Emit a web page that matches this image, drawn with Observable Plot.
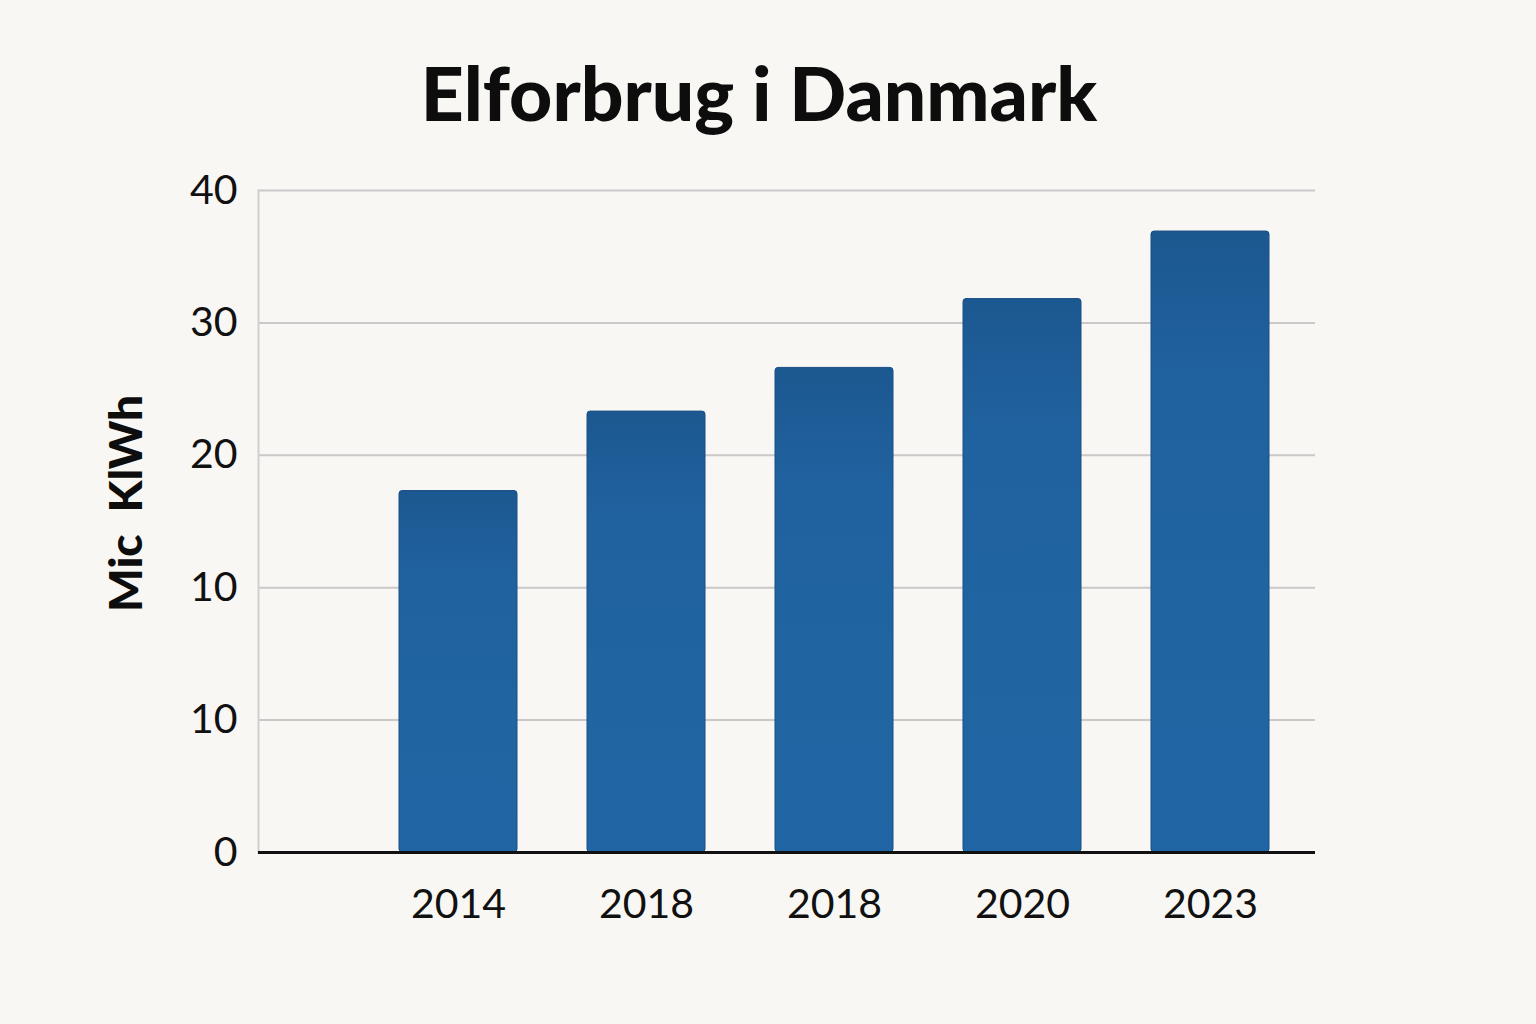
<!DOCTYPE html>
<html>
<head>
<meta charset="utf-8">
<script src="https://cdn.jsdelivr.net/npm/d3@7"></script>
<script src="https://cdn.jsdelivr.net/npm/@observablehq/plot@0.6"></script>
<style>
  html, body { margin: 0; padding: 0; background: #f8f7f4; }
  #wrap { position: relative; width: 1536px; height: 1024px; overflow: hidden; }
  #title { position: absolute; left: 0; top: 55px; width: 1518px; text-align: center;
    font-family: Lato, "Noto Sans", sans-serif; font-weight: 900; font-size: 75px; color: #0d0d0d; line-height: 1; }
  #chart { position: absolute; left: 0; top: 0; }
</style>
</head>
<body>
<div id="wrap">
  <div id="chart"></div>
  <div id="title"></div>
</div>
<script>
const titleText = "Elforbrug i Danmark";
const yLabel = "Mic  KlWh";
const years = ["2014", "2018", "2018", "2020", "2023"];
const values = [27.3, 33.3, 36.6, 41.8, 46.9];
const yTicks = [0, 10, 20, 30, 40, 50];
const yTickLabels = ["0", "10", "10", "20", "30", "40"];

document.getElementById("title").textContent = titleText;
const data = years.map((y, i) => ({i, year: y, v: values[i]}));

const plot = Plot.plot({
  width: 1536,
  height: 1024,
  marginTop: 190,
  marginBottom: 172,
  marginLeft: 258,
  marginRight: 221,
  style: {background: "transparent", fontFamily: "Lato, 'Noto Sans', sans-serif", color: "#111"},
  x: {type: "band", domain: d3.range(years.length), range: [327, 1341], padding: 0.37},
  y: {domain: [0, 50], range: [852, 190]},
  marks: [
    Plot.ruleY(yTicks.slice(1), {stroke: "#c9c9c9", strokeWidth: 2}),
    Plot.frame({anchor: "left", stroke: "#cfcfcf", strokeWidth: 2}),
    Plot.barY(data, {x: "i", y: "v", fill: "url(#barGrad)", stroke: "#1b4f86", strokeWidth: 1, rx: 3}),
    Plot.ruleY([0], {stroke: "#111", strokeWidth: 3}),
    Plot.axisY({ticks: yTicks, tickFormat: d => yTickLabels[yTicks.indexOf(d)], tickSize: 0, tickPadding: 21, fontSize: 41, label: null}),
    Plot.axisX({tickFormat: d => years[d], tickSize: 0, tickPadding: 36, fontSize: 41, label: null}),
    Plot.text([yLabel], {text: d => d, frameAnchor: "left", textAnchor: "middle", dx: -131, dy: -18, rotate: -90, fontSize: 46, fontWeight: 900, fill: "#0d0d0d"})
  ]
});

const svg = d3.select(plot);
const defs = svg.insert("defs", ":first-child");
const g = defs.append("linearGradient").attr("id", "barGrad").attr("x1", 0).attr("y1", 0).attr("x2", 0).attr("y2", 1);
g.append("stop").attr("offset", "0%").attr("stop-color", "#1c5890");
g.append("stop").attr("offset", "25%").attr("stop-color", "#2062a0");
g.append("stop").attr("offset", "100%").attr("stop-color", "#2166a4");
svg.selectAll("[aria-label='y-axis tick label'] text, [aria-label='x-axis tick label'] text").attr("fill", "#111");

document.getElementById("chart").appendChild(plot);
</script>
</body>
</html>
